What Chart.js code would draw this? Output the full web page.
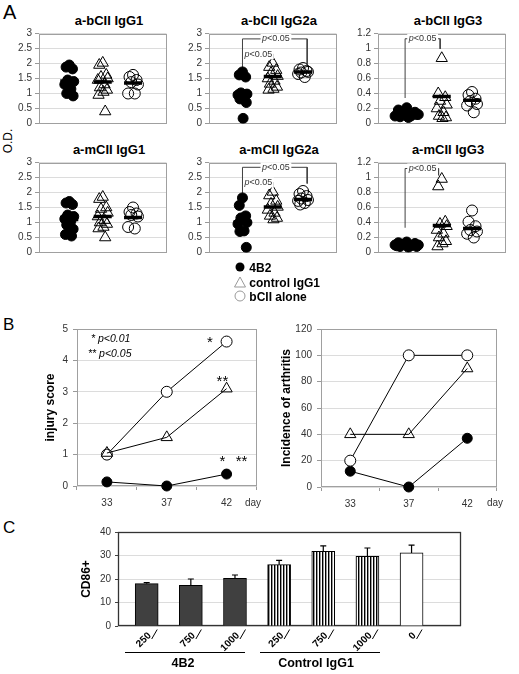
<!DOCTYPE html>
<html><head><meta charset="utf-8">
<script src="https://cdn.jsdelivr.net/npm/chart.js@4.4.1/dist/chart.umd.min.js"></script>
<style>
html,body{margin:0;padding:0;background:#fff}
body{width:519px;height:674px;position:relative;overflow:hidden;font-family:"Liberation Sans",Arial,sans-serif;color:#000}
canvas{position:absolute;display:block}
.t{position:absolute;white-space:nowrap;line-height:1}
.ttl{font-weight:bold;font-size:13px;transform:translate(-50%,-50%)}
</style></head><body>
<div class="t" style="left:3px;top:2px;font-size:20px">A</div>
<div class="t" style="left:3px;top:316px;font-size:17px">B</div>
<div class="t" style="left:3px;top:519px;font-size:17px">C</div>
<div class="t" style="left:8px;top:141px;font-size:12px;transform:translate(-50%,-50%) rotate(-90deg)">O.D.</div>
<div id="titles"></div>
<canvas id="a1"></canvas><canvas id="a2"></canvas><canvas id="a3"></canvas>
<canvas id="a4"></canvas><canvas id="a5"></canvas><canvas id="a6"></canvas>
<div class="t" id="legend" style="left:234px;top:261px;font-weight:bold;font-size:12px;line-height:14.5px"></div>
<canvas id="b1"></canvas><canvas id="b2"></canvas>
<div class="t" style="left:91px;top:333px;font-size:10.5px;font-style:italic">* p&lt;0.01</div>
<div class="t" style="left:88px;top:348px;font-size:10.5px;font-style:italic">** p&lt;0.05</div>
<div class="t" style="left:245px;top:498px;font-size:10px;color:#333">day</div>
<div class="t" style="left:487px;top:498px;font-size:10px;color:#333">day</div>
<canvas id="c1"></canvas>
<div style="position:absolute;left:125px;top:652px;width:120px;border-top:1px solid #000"></div>
<div style="position:absolute;left:260px;top:652px;width:120px;border-top:1px solid #000"></div>
<div class="t" style="left:183px;top:663px;font-weight:bold;font-size:12.5px;transform:translate(-50%,-50%)">4B2</div>
<div class="t" style="left:316px;top:663px;font-weight:bold;font-size:12.5px;transform:translate(-50%,-50%)">Control IgG1</div>
<script>
// ---------------- DATA ----------------
const groups = ['4B2', 'control IgG1', 'bCII alone'];
const panelTitles = ['a-bCII IgG1', 'a-bCII IgG2a', 'a-bCII IgG3', 'a-mCII IgG1', 'a-mCII IgG2a', 'a-mCII IgG3'];

const b1_4B2 = [1.95, 1.88, 1.82, 1.45, 1.40, 1.30, 1.15, 1.00, 0.92];
const b1_ctrl = [2.02, 1.95, 1.62, 1.55, 1.50, 1.45, 1.30, 1.20, 1.12, 1.05, 0.95, 0.40];
const b1_bCII = [1.62, 1.55, 1.45, 1.38, 1.30, 1.00, 1.00];
const b1_mean = [1.42, 1.38, 1.35];

const b2a_4B2 = [1.72, 1.62, 1.55, 1.02, 0.98, 0.95, 0.90, 0.82, 0.70, 0.17];
const b2a_ctrl = [2.02, 1.88, 1.78, 1.68, 1.58, 1.50, 1.42, 1.32, 1.22, 1.15, 1.12];
const b2a_bCII = [1.85, 1.80, 1.75, 1.70, 1.72, 1.65, 1.55];
const b2a_mean = [1.00, 1.57, 1.72];

const b3_4B2 = [0.21, 0.18, 0.15, 0.13, 0.12, 0.10, 0.10, 0.09, 0.12, 0.08];
const b3_ctrl = [0.87, 0.40, 0.35, 0.30, 0.25, 0.20, 0.15, 0.10, 0.08, 0.07];
const b3_bCII = [0.42, 0.38, 0.33, 0.30, 0.26, 0.24, 0.15];
const b3_mean = [0.12, 0.36, 0.31];

const m1_4B2 = [1.70, 1.65, 1.60, 1.25, 1.20, 1.12, 1.05, 0.92, 0.78, 0.65, 0.60, 0.55];
const m1_ctrl = [1.85, 1.78, 1.50, 1.45, 1.32, 1.20, 1.08, 1.00, 0.95, 0.85, 0.80, 0.50];
const m1_bCII = [1.50, 1.35, 1.30, 1.25, 1.20, 0.85, 0.80];
const m1_mean = [1.10, 1.20, 1.17];

const m2a_4B2 = [1.82, 1.57, 1.22, 1.15, 1.00, 0.95, 0.72, 0.70, 0.17];
const m2a_ctrl = [2.02, 1.90, 1.72, 1.62, 1.52, 1.42, 1.32, 1.22, 1.15, 1.10];
const m2a_bCII = [2.05, 1.95, 1.88, 1.80, 1.75, 1.72, 1.65, 1.60];
const m2a_mean = [1.02, 1.52, 1.77];

const m3_4B2 = [0.14, 0.13, 0.12, 0.11, 0.10, 0.10, 0.09, 0.08, 0.08, 0.07, 0.09];
const m3_ctrl = [0.98, 0.88, 0.41, 0.38, 0.35, 0.30, 0.25, 0.20, 0.15, 0.12, 0.08];
const m3_bCII = [0.56, 0.41, 0.35, 0.30, 0.28, 0.25, 0.20];
const m3_mean = [0.10, 0.36, 0.32];

const days = ['33', '37', '42'];
const injury_bCII = [1.0, 3.0, 4.6];
const injury_ctrl = [1.05, 1.55, 3.1];
const injury_4B2 = [0.13, 0.0, 0.38];
const incid_bCII = [20, 100, 100];
const incid_ctrl = [40, 40, 90];
const incid_4B2 = [12, 0, 37];

const doses = ['250', '750', '1000', '250', '750', '1000', '0'];
const cd86 = [18.0, 17.3, 20.3, 26.1, 31.8, 29.7, 31.1];
const cd86err = [0.5, 2.7, 1.4, 1.8, 2.3, 3.5, 3.3];

// ---------------- HELPERS ----------------
const FONT = '"Liberation Sans", Arial, sans-serif';
Chart.defaults.font.family = FONT;
Chart.defaults.font.size = 10;
Chart.defaults.color = '#333';
Chart.defaults.animation = false;
const GRID = '#dcdcdc';

function setup(id, L, T, R, B, m) {
  const c = document.getElementById(id);
  const W = R - L + m.l + m.r, H = B - T + m.t + m.b;
  c.width = W; c.height = H;
  c.style.left = (L - m.l) + 'px'; c.style.top = (T - m.t) + 'px';
  c.style.width = W + 'px'; c.style.height = H + 'px';
  return c;
}
function framePlugin(color, width) {
  return { id: 'frame', beforeDatasetsDraw(chart) {
    const a = chart.chartArea, c = chart.ctx;
    const x0 = Math.round(a.left) + 0.5, y0 = Math.round(a.top) + 0.5;
    const x1 = Math.round(a.right) - 0.5, y1 = Math.round(a.bottom) - 0.5;
    c.save(); c.strokeStyle = color; c.lineWidth = width;
    c.strokeRect(x0, y0, x1 - x0, y1 - y0); c.restore();
  }};
}
function pTextPlugin(items) {
  return { id: 'ptext', afterDatasetsDraw(chart) {
    const c = chart.ctx, xs = chart.scales.x, ys = chart.scales.y;
    c.save();
    items.forEach(it => {
      const px = xs.getPixelForValue(it.x), py = ys.getPixelForValue(it.y);
      c.font = 'italic 9px ' + FONT; const w1 = c.measureText('p').width;
      c.font = '9px ' + FONT; const w2 = c.measureText('<0.05').width;
      const w = w1 + w2, x0 = px - w / 2;
      c.fillStyle = '#fff'; c.fillRect(x0 - 1.5, py - 5, w + 3, 10);
      c.fillStyle = '#333'; c.textBaseline = 'middle'; c.textAlign = 'left';
      c.font = 'italic 9px ' + FONT; c.fillText('p', x0, py);
      c.font = '9px ' + FONT; c.fillText('<0.05', x0 + w1, py);
    });
    c.restore();
  }};
}
const JIT = [0, -0.2, 0.2, -0.1, 0.28, -0.28, 0.1, -0.16, 0.24, 0.04, -0.24, 0.14];
function pts(vals, cx, spread) { return vals.map((v, i) => ({ x: cx + JIT[i % JIT.length] * spread, y: v })); }
const fmt = v => String(+(+v).toFixed(2));

// ---------------- PANEL A ----------------
const panels = [
  { id: 'a1', box: [39, 29, 175, 128], yMax: 3, step: 0.5, f: b1_4B2, t: b1_ctrl, c: b1_bCII, mean: b1_mean, cx: [0.95, 2, 2.95], fs: 0.5, br: [], pt: [] },
  { id: 'a2', box: [209, 29, 345, 128], yMax: 3, step: 0.5, f: b2a_4B2, t: b2a_ctrl, c: b2a_bCII, mean: b2a_mean, cx: [1.05, 2, 2.95], fs: 0.5,
    br: [[[1.05, 1.78], [1.05, 2.82], [3.08, 2.82], [3.08, 1.97]], [[1.05, 2.31], [2.02, 2.31], [2.02, 2.12]]],
    pt: [{ x: 2.1, y: 2.82 }, { x: 1.55, y: 2.31 }] },
  { id: 'a3', box: [378, 29, 514, 128], yMax: 1.2, step: 0.2, f: b3_4B2, t: b3_ctrl, c: b3_bCII, mean: b3_mean, cx: [0.9, 2, 2.95], fs: 1.3,
    br: [[[0.85, 0.34], [0.85, 1.13], [1.95, 1.13], [1.95, 0.995]]], pt: [{ x: 1.4, y: 1.13 }] },
  { id: 'a4', box: [39, 158, 175, 257], yMax: 3, step: 0.5, f: m1_4B2, t: m1_ctrl, c: m1_bCII, mean: m1_mean, cx: [0.95, 2, 2.95], fs: 0.5, br: [], pt: [] },
  { id: 'a5', box: [209, 158, 345, 257], yMax: 3, step: 0.5, f: m2a_4B2, t: m2a_ctrl, c: m2a_bCII, mean: m2a_mean, cx: [1.05, 2, 2.95], fs: 0.5,
    br: [[[1.05, 1.98], [1.05, 2.84], [3.08, 2.84], [3.08, 2.3]], [[1.05, 2.33], [2.02, 2.33], [2.02, 2.24]]],
    pt: [{ x: 2.1, y: 2.84 }, { x: 1.55, y: 2.33 }] },
  { id: 'a6', box: [378, 158, 514, 257], yMax: 1.2, step: 0.2, f: m3_4B2, t: m3_ctrl, c: m3_bCII, mean: m3_mean, cx: [0.9, 2, 2.95], fs: 1.3,
    br: [[[0.85, 0.33], [0.85, 1.12], [1.9, 1.12], [1.9, 1.03]]], pt: [{ x: 1.4, y: 1.12 }] }
];

const titlesDiv = document.getElementById('titles');
panels.forEach((p, k) => {
  const [L, T, R, B] = p.box;
  const d = document.createElement('div');
  d.className = 't ttl'; d.textContent = panelTitles[k];
  d.style.left = ((L + R) / 2 + 2) + 'px'; d.style.top = (T - 9) + 'px';
  titlesDiv.appendChild(d);

  const m = { l: 34, t: 8, r: 4, b: 8 };
  const cv = setup(p.id, L, T, R, B, m);
  const ds = [
    { data: p.mean.map((v, g) => ({ x: p.cx[g], y: v })), pointStyle: 'line', pointRadius: 9, pointBorderWidth: 3.5, pointBorderColor: '#000', order: 0 },
    { label: groups[1], data: pts(p.t, p.cx[1], 0.55), pointStyle: 'triangle', pointRadius: 6.5, pointBackgroundColor: 'rgba(255,255,255,0)', pointBorderColor: '#000', pointBorderWidth: 1, order: 2 },
    { label: groups[2], data: pts(p.c, p.cx[2], 0.55), pointStyle: 'circle', pointRadius: 5.5, pointBackgroundColor: 'rgba(255,255,255,0)', pointBorderColor: '#000', pointBorderWidth: 1, order: 2 },
    { label: groups[0], data: pts(p.f, p.cx[0], p.fs), pointStyle: 'circle', pointRadius: 5, pointBackgroundColor: '#000', pointBorderColor: '#000', pointBorderWidth: 1, order: 1 }
  ];
  p.br.forEach(b => ds.push({ data: b.map(q => ({ x: q[0], y: q[1] })), showLine: true, pointRadius: 0, borderColor: '#404040', borderWidth: 1, order: 3 }));
  new Chart(cv, {
    type: 'scatter',
    data: { datasets: ds },
    options: {
      responsive: false, animation: false, events: [],
      layout: { padding: { left: 0, top: m.t, right: m.r, bottom: m.b } },
      plugins: { legend: { display: false }, tooltip: { enabled: false } },
      scales: {
        x: { type: 'linear', min: 0, max: 4, display: false },
        y: { min: 0, max: p.yMax, ticks: { stepSize: p.step, padding: 3, callback: fmt, color: '#333', font: { size: 10 } },
             grid: { color: GRID, tickLength: 4, tickColor: '#999' }, border: { display: false },
             afterFit(s) { s.width = m.l; } }
      }
    },
    plugins: [framePlugin('#a0a0a0', 1), pTextPlugin(p.pt)]
  });
});

// legend
document.getElementById('legend').innerHTML =
  '<div><svg width="12" height="12" style="vertical-align:-1px"><circle cx="6" cy="6" r="4.5" fill="#000"/></svg> ' + groups[0] + '</div>' +
  '<div><svg width="12" height="12" style="vertical-align:-1px"><polygon points="6,1 11.5,11 0.5,11" fill="none" stroke="#999"/></svg> ' + groups[1] + '</div>' +
  '<div><svg width="12" height="12" style="vertical-align:-1px"><circle cx="6" cy="6" r="5" fill="none" stroke="#999"/></svg> ' + groups[2] + '</div>';

// ---------------- PANEL B ----------------
function starPlugin(items) {
  return { id: 'stars', afterDatasetsDraw(chart) {
    const c = chart.ctx, xs = chart.scales.x, ys = chart.scales.y;
    c.save(); c.fillStyle = '#000'; c.font = '15px ' + FONT; c.textAlign = 'center'; c.textBaseline = 'alphabetic';
    items.forEach(it => c.fillText(it.t, xs.getPixelForValue(it.x), ys.getPixelForValue(it.y) + 9));
    c.restore();
  }};
}
function lineChart(id, box, m, yMax, step, title, sets, stars) {
  const [L, T, R, B] = box;
  const cv = setup(id, L, T, R, B, m);
  new Chart(cv, {
    type: 'line',
    data: { labels: days, datasets: [
      { label: groups[1], data: sets[1], borderColor: '#000', borderWidth: 1, tension: 0, clip: false, pointStyle: 'triangle', pointRadius: 6.5, pointBackgroundColor: 'rgba(255,255,255,0)', pointBorderColor: '#000', pointBorderWidth: 1 },
      { label: groups[2], data: sets[2], borderColor: '#000', borderWidth: 1, tension: 0, clip: false, pointStyle: 'circle', pointRadius: 5.5, pointBackgroundColor: '#fff', pointBorderColor: '#000', pointBorderWidth: 1 },
      { label: groups[0], data: sets[0], borderColor: '#000', borderWidth: 1, tension: 0, clip: false, pointStyle: 'circle', pointRadius: 5, pointBackgroundColor: '#000', pointBorderColor: '#000', pointBorderWidth: 1 }
    ]},
    options: {
      responsive: false, animation: false, events: [],
      layout: { padding: { left: 0, top: m.t, right: m.r, bottom: 0 } },
      plugins: { legend: { display: false }, tooltip: { enabled: false } },
      scales: {
        x: { offset: true, grid: { offset: true, drawOnChartArea: false, tickLength: 4, color: '#999', tickColor: '#999' }, border: { display: false },
             ticks: { padding: 7, color: '#333', font: { size: 10 } }, afterFit(s) { s.height = m.b; } },
        y: { min: 0, max: yMax, ticks: { stepSize: step, padding: 5, color: '#333', font: { size: 10 } },
             grid: { color: GRID, tickLength: 4, tickColor: '#999' }, border: { display: false },
             title: { display: true, text: title, color: '#000', font: { size: 12, weight: 'bold' }, padding: { top: 2, bottom: 0 } },
             afterFit(s) { s.width = m.l; } }
      }
    },
    plugins: [framePlugin('#a0a0a0', 1), starPlugin(stars)]
  });
}
lineChart('b1', [77, 326, 258, 486], { l: 36, t: 8, r: 6, b: 24 }, 5, 1, 'injury score',
  [injury_4B2, injury_ctrl, injury_bCII],
  [{ x: 1.72, y: 4.71, t: '*' }, { x: 1.93, y: 3.47, t: '**' }, { x: 1.93, y: 0.91, t: '*' }, { x: 2.25, y: 0.91, t: '**' }]);
lineChart('b2', [321, 326, 498, 487], { l: 44, t: 8, r: 6, b: 24 }, 120, 20, 'Incidence of arthritis',
  [incid_4B2, incid_ctrl, incid_bCII], []);

// ---------------- PANEL C ----------------
const cv3 = setup('c1', 118, 530, 461, 626, { l: 39, t: 8, r: 6, b: 30 });
const pc = document.createElement('canvas'); pc.width = 3; pc.height = 8;
const pg = pc.getContext('2d'); pg.fillStyle = '#fff'; pg.fillRect(0, 0, 3, 8); pg.fillStyle = '#000'; pg.fillRect(0, 0, 1.4, 8);
const stripe = cv3.getContext('2d').createPattern(pc, 'repeat');
const barFills = ['#404040', '#404040', '#404040', stripe, stripe, stripe, '#ffffff'];
const errPlugin = { id: 'err', afterDatasetsDraw(chart) {
  const c = chart.ctx, ys = chart.scales.y, meta = chart.getDatasetMeta(0);
  c.save(); c.strokeStyle = '#000'; c.lineWidth = 1.2;
  meta.data.forEach((bar, i) => {
    const yt = ys.getPixelForValue(cd86[i] + cd86err[i]);
    c.beginPath(); c.moveTo(bar.x, bar.y); c.lineTo(bar.x, yt);
    c.moveTo(bar.x - 3, yt); c.lineTo(bar.x + 3, yt); c.stroke();
  });
  c.restore();
}};
// rotated category labels (with the small slash marks next to them)
const doseLabelPlugin = { id: 'doseLabels', afterDraw(chart) {
  const c = chart.ctx, xs = chart.scales.x, B = chart.chartArea.bottom;
  c.save();
  doses.forEach((d, i) => {
    const x = xs.getPixelForValue(i);
    c.save();
    c.translate(x + 3, B + 8);
    c.rotate(-Math.PI / 4);
    c.fillStyle = '#000'; c.font = 'bold 10px ' + FONT;
    c.textAlign = 'right'; c.textBaseline = 'middle';
    c.fillText(d, 0, 0);
    c.restore();
    c.strokeStyle = '#000'; c.lineWidth = 1;
    c.beginPath(); c.moveTo(x + 5, B + 13); c.lineTo(x + 10.5, B + 3.5); c.stroke();
  });
  c.restore();
}};
new Chart(cv3, {
  type: 'bar',
  data: { datasets: [{ data: cd86.map((v, i) => ({ x: i, y: v })), backgroundColor: barFills, borderColor: '#000', borderWidth: 1, barThickness: 23, borderSkipped: 'start' }] },
  options: {
    responsive: false, animation: false, events: [],
    layout: { padding: { left: 0, top: 8, right: 6, bottom: 0 } },
    plugins: { legend: { display: false }, tooltip: { enabled: false } },
    scales: {
      x: { type: 'linear', offset: false, min: -0.65, max: 7.12,
           ticks: { display: false },
           grid: { display: false, drawTicks: false }, border: { display: false },
           afterFit(s) { s.height = 30; } },
      y: { min: 0, max: 40, ticks: { stepSize: 10, padding: 4, color: '#333', font: { size: 10 } },
           grid: { color: GRID, tickLength: 3, tickColor: '#444' }, border: { display: false },
           title: { display: true, text: 'CD86+', color: '#000', font: { size: 12, weight: 'bold' }, padding: { top: 0, bottom: 0 } },
           afterFit(s) { s.width = 39; } }
    }
  },
  plugins: [framePlugin('#333', 1.3), errPlugin, doseLabelPlugin]
});
</script>
</body></html>
